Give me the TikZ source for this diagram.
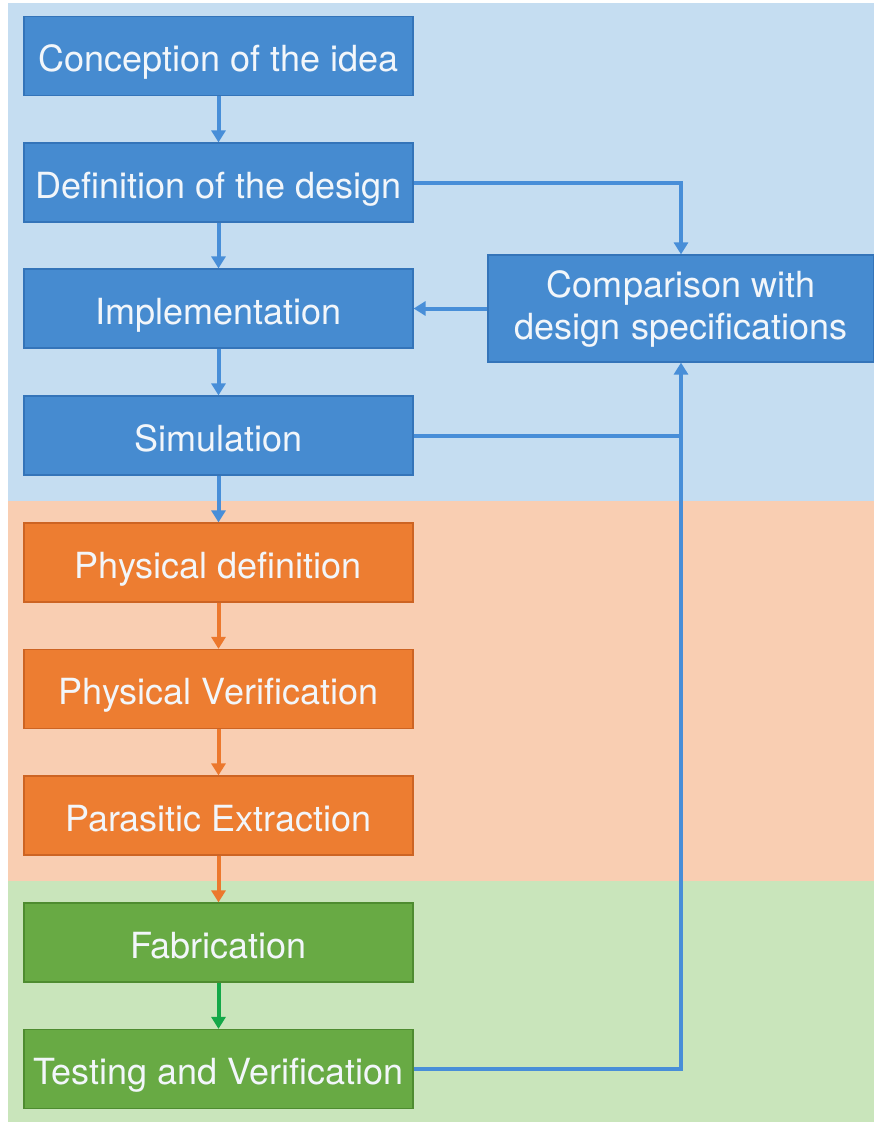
\documentclass[tikz,border=0pt]{standalone}
\usepackage{fontspec}
\setmainfont{TeX Gyre Heros}
\usetikzlibrary{arrows.meta}
\definecolor{bgblue}{RGB}{197,221,241}
\definecolor{bgorange}{RGB}{249,206,178}
\definecolor{bggreen}{RGB}{201,229,187}
\definecolor{boxblue}{RGB}{70,139,208}
\definecolor{edgeblue}{RGB}{52,116,185}
\definecolor{boxorange}{RGB}{237,125,49}
\definecolor{edgeorange}{RGB}{205,100,35}
\definecolor{boxgreen}{RGB}{104,170,68}
\definecolor{edgegreen}{RGB}{78,140,48}
\definecolor{linkblue}{RGB}{72,142,216}
\definecolor{linkorange}{RGB}{236,120,45}
\definecolor{linkgreen}{RGB}{20,168,72}
\definecolor{labelwhite}{RGB}{242,246,250}
\tikzset{
  stagebase/.style={rectangle, minimum width=389pt, minimum height=79pt, inner sep=0pt,
    text=labelwhite, font=\fontsize{36}{42}\selectfont, line width=1.2pt, align=center},
  stage/.style={stagebase, text height=31pt, text depth=0pt},
  bluestage/.style={stage, fill=boxblue, draw=edgeblue},
  orangestage/.style={stage, fill=boxorange, draw=edgeorange},
  greenstage/.style={stage, fill=boxgreen, draw=edgegreen},
  link/.style={line width=4pt, -{Triangle[width=14pt,length=12pt]}},
  plain/.style={line width=4pt},
}
\begin{document}
\begin{tikzpicture}[x=1pt,y=-1pt]
\useasboundingbox (0,0) rectangle (874,1130);
% colour bands behind the three phases
\fill[bgblue]   (8,3)   rectangle (874,501);
\fill[bgorange] (8,501) rectangle (874,881);
\fill[bggreen]  (8,881) rectangle (874,1122);

% left column of stages
\node[bluestage]   (idea) at (218.5,56)   {Conception of the idea};
\node[bluestage]   (def)  at (218.5,182.5){Definition of the design};
\node[bluestage]   (impl) at (218.5,308.5){Implementation};
\node[bluestage]   (sim)  at (218.5,435.5){Simulation};
\node[orangestage] (phys) at (218.5,562.5){Physical definition};
\node[orangestage] (pver) at (218.5,689)  {Physical Verification};
\node[orangestage] (para) at (218.5,815.5){Parasitic Extraction};
\node[greenstage]  (fab)  at (218.5,942.5){Fabrication};
\node[greenstage]  (test) at (218.5,1069) {Testing and Verification};

% comparison box on the right
\node[stagebase, fill=boxblue, draw=edgeblue, minimum width=386pt, minimum height=107pt]
  (cmp) at (681,308.5) {Comparison with\\design specifications};

% downward flow
\draw[link, linkblue]   (idea) -- (def);
\draw[link, linkblue]   (def)  -- (impl);
\draw[link, linkblue]   (impl) -- (sim);
\draw[link, linkblue]   (sim)  -- (phys);
\draw[link, linkorange] (phys) -- (pver);
\draw[link, linkorange] (pver) -- (para);
\draw[link, linkorange] (para) -- (fab);
\draw[link, linkgreen]  (fab)  -- (test);

% feedback loop through the comparison
\draw[link, linkblue] (def.east) -| (cmp.north);
\draw[link, linkblue] (cmp.west) -- (impl.east);
\draw[link, linkblue] (test.east) -| (cmp.south);
\draw[plain, linkblue] (sim.east) -- (sim.east -| cmp.south);
\end{tikzpicture}
\end{document}
